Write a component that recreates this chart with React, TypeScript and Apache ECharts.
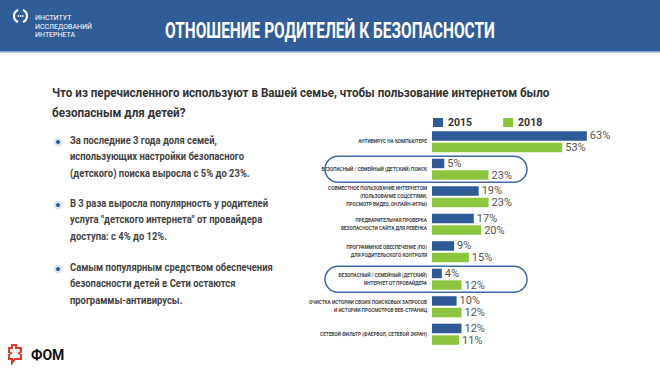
import React, { useEffect, useRef } from "react";
import * as echarts from "echarts";

const categories = [
  "АНТИВИРУС НА КОМПЬЮТЕРЕ",
  "БЕЗОПАСНЫЙ / СЕМЕЙНЫЙ (ДЕТСКИЙ) ПОИСК",
  "СОВМЕСТНОЕ ПОЛЬЗОВАНИЕ ИНТЕРНЕТОМ\n(ПОЛЬЗОВАНИЕ СОЦСЕТЯМИ,\nПРОСМОТР ВИДЕО, ОНЛАЙН-ИГРЫ)",
  "ПРЕДВАРИТЕЛЬНАЯ ПРОВЕРКА\nБЕЗОПАСНОСТИ САЙТА ДЛЯ РЕБЁНКА",
  "ПРОГРАММНОЕ ОБЕСПЕЧЕНИЕ (ПО)\nДЛЯ РОДИТЕЛЬСКОГО КОНТРОЛЯ",
  "БЕЗОПАСНЫЙ / СЕМЕЙНЫЙ (ДЕТСКИЙ)\nИНТЕРНЕТ ОТ ПРОВАЙДЕРА",
  "ОЧИСТКА ИСТОРИИ СВОИХ ПОИСКОВЫХ ЗАПРОСОВ\nИ ИСТОРИИ ПРОСМОТРОВ ВЕБ-СТРАНИЦ",
  "СЕТЕВОЙ ФИЛЬТР (ФАЕРВОЛ, СЕТЕВОЙ ЭКРАН)",
];
const values2015 = [63, 5, 19, 17, 9, 4, 10, 12];
const values2018 = [53, 23, 23, 20, 15, 12, 12, 11];
const seriesNames = ["2015", "2018"];
const highlighted = [1, 5];

const titleText = "ОТНОШЕНИЕ РОДИТЕЛЕЙ К БЕЗОПАСНОСТИ";
const questionLines = [
  "Что из перечисленного используют в Вашей семье, чтобы пользование интернетом было",
  "безопасным для детей?",
];
const bullets = [
  ["За последние 3 года доля семей,", "использующих настройки безопасного", "(детского) поиска выросла с 5% до 23%."],
  ["В 3 раза выросла популярность у родителей", "услуга \"детского интернета\" от провайдера", "доступа: с 4% до 12%."],
  ["Самым популярным средством обеспечения", "безопасности детей в Сети остаются", "программы-антивирусы."],
];
const logoLines = ["ИНСТИТУТ", "ИССЛЕДОВАНИЙ", "ИНТЕРНЕТА"];

const FONT = "Roboto, 'DejaVu Sans', sans-serif";
const BLUE = "#2e5b97";
const GREEN = "#8cc63f";

function measure(text: string, font: string): number {
  const c = document.createElement("canvas").getContext("2d");
  if (!c) return text.length * 7;
  c.font = font;
  return c.measureText(text).width;
}

export default function App() {
  const ref = useRef<HTMLDivElement>(null);
  useEffect(() => {
    if (!ref.current) return;
    const chart = echarts.init(ref.current, null, { renderer: "svg" });

    const titleFont = "bold 22.5px " + FONT;
    const titleScale = 330 / measure(titleText, titleFont);
    const qFont = "bold 13px " + FONT;
    const qScale = 498 / measure(questionLines[0], qFont);
    const bFont = "bold 11.5px " + FONT;
    const bScale = 198 / measure(bullets[1][0], bFont);

    const graphics: any[] = [];
    graphics.push({ type: "rect", shape: { x: 0, y: 0, width: 660, height: 51 }, style: { fill: "#2f5d98" }, z: 0 });
    graphics.push({ type: "rect", shape: { x: 0, y: 51, width: 660, height: 1.5 }, style: { fill: "#7ea3cf" }, z: 0 });
    // institute logo
    graphics.push({ type: "arc", shape: { cx: 20.5, cy: 16, r: 6.5, startAngle: Math.PI * 0.62, endAngle: Math.PI * 1.38 }, style: { stroke: "#fff", lineWidth: 2.2, fill: "none" } });
    graphics.push({ type: "arc", shape: { cx: 20.5, cy: 16, r: 6.5, startAngle: -Math.PI * 0.38, endAngle: Math.PI * 0.38 }, style: { stroke: "#fff", lineWidth: 2.2, fill: "none" } });
    [18.3, 20.5, 22.7].forEach((cx) => graphics.push({ type: "circle", shape: { cx, cy: 16, r: 0.8 }, style: { fill: "#fff" } }));
    logoLines.forEach((t, i) =>
      graphics.push({ type: "text", x: 35, y: 18 + i * 8.7, style: { text: t, fill: "#fff", font: "7px " + FONT, verticalAlign: "middle" } })
    );
    graphics.push({ type: "text", x: 165, y: 30, scaleX: titleScale, style: { text: titleText, fill: "#fff", font: titleFont, verticalAlign: "middle" } });
    questionLines.forEach((t, i) =>
      graphics.push({ type: "text", x: 52, y: 93 + i * 19.5, scaleX: qScale, style: { text: t, fill: "#333", font: qFont, verticalAlign: "middle" } })
    );
    const bulletY = [140, 203, 267];
    bullets.forEach((lines, b) => {
      graphics.push({ type: "circle", shape: { cx: 58, cy: bulletY[b] + 2, r: 4 }, style: { fill: "#dfe8f4", stroke: "#c0d0e6", lineWidth: 0.5 } });
      graphics.push({ type: "circle", shape: { cx: 58, cy: bulletY[b] + 2, r: 2 }, style: { fill: BLUE } });
      lines.forEach((t, i) =>
        graphics.push({ type: "text", x: 70, y: bulletY[b] + i * 16.5, scaleX: bScale, style: { text: t, fill: "#444", font: bFont, verticalAlign: "middle" } })
      );
    });
    // FOM logo
    graphics.push({
      type: "polygon",
      shape: { points: [[12, 345], [16, 345], [16, 348], [21, 348], [21, 352], [19, 353], [21, 355], [21, 359], [15, 359], [12, 363], [12, 359], [9, 359], [9, 355], [11, 353], [9, 352], [9, 348], [12, 348]] },
      style: { fill: "none", stroke: "#e53a2b", lineWidth: 2 },
    });
    graphics.push({ type: "text", x: 31, y: 355, style: { text: "ФОМ", fill: "#111", font: "bold 14px " + FONT, verticalAlign: "middle" } });

    const barLabel = { show: true, position: "right", distance: 3, formatter: "{c}%", fontSize: 11, color: "#555", fontFamily: FONT };
    const option: any = {
      animation: false,
      backgroundColor: "#fff",
      legend: {
        left: 428,
        top: 112,
        itemWidth: 10,
        itemHeight: 9,
        itemGap: 31,
        icon: "rect",
        textStyle: { fontSize: 10.5, fontWeight: "bold", color: "#333", fontFamily: FONT, padding: [0, 0, 0, 0] },
        data: seriesNames,
      },
      grid: { left: 432, width: 172, top: 128, height: 220, containLabel: false },
      xAxis: { type: "value", min: 0, max: 70, show: false, splitLine: { show: false } },
      yAxis: {
        type: "category",
        inverse: true,
        data: categories,
        axisLine: { show: false },
        axisTick: { show: false },
        axisLabel: { margin: 5, fontSize: 4.7, lineHeight: 8, color: "#444", fontWeight: "bold", fontFamily: FONT },
      },
      series: [
        { name: seriesNames[0], type: "bar", data: values2015, barWidth: 9.5, barGap: "22%", itemStyle: { color: BLUE }, label: barLabel },
        { name: seriesNames[1], type: "bar", data: values2018, barWidth: 9.5, itemStyle: { color: GREEN }, label: barLabel },
      ],
      graphic: graphics,
    };
    chart.setOption(option);
    const boxes = highlighted.map((idx) => {
      const y = chart.convertToPixel({ yAxisIndex: 0 }, idx) as number;
      return { type: "rect", shape: { x: 325, y: y - 13, width: 202, height: 26, r: 13 }, style: { fill: "none", stroke: "#3d6aa3", lineWidth: 1.5 }, z: 10 };
    });
    chart.setOption({ graphic: graphics.concat(boxes) });
    return () => chart.dispose();
  }, []);
  return <div ref={ref} style={{ position: "fixed", left: 0, top: 0, width: 660, height: 370 }} />;
}
